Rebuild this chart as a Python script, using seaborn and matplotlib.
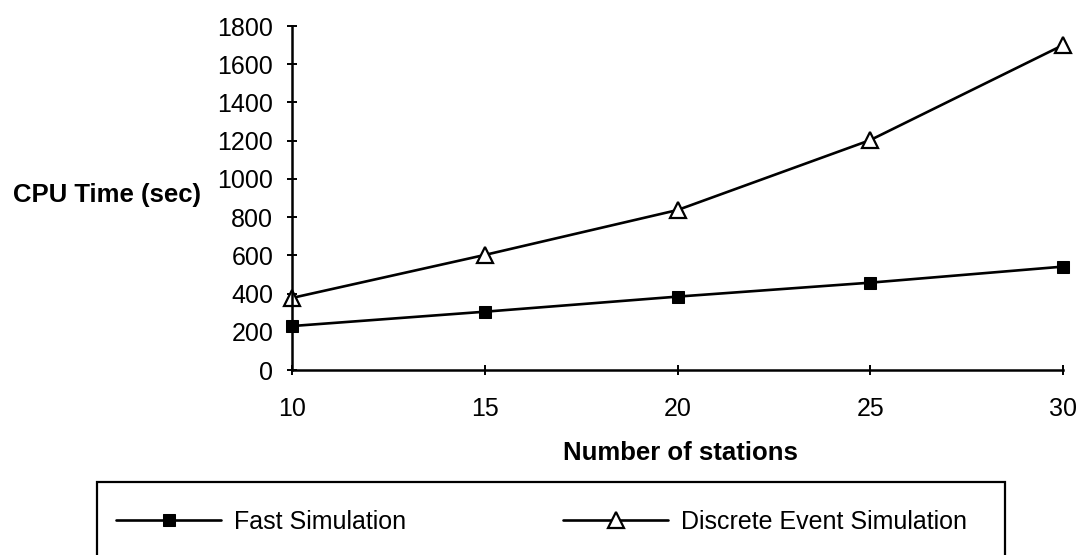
import matplotlib
matplotlib.use("Agg")
import matplotlib.pyplot as plt
import matplotlib.patches as mpatches
import seaborn as sns
import pandas as pd

stations = [10, 15, 20, 25, 30]
fast_sim = [230, 305, 384, 457, 541]
des_sim = [377, 602, 837, 1203, 1700]
y_ticks = [0, 200, 400, 600, 800, 1000, 1200, 1400, 1600, 1800]
x_ticks = [10, 15, 20, 25, 30]
series_names = ["Fast Simulation", "Discrete Event Simulation"]

sns.set_style("white")
plt.rcParams["font.family"] = ["Liberation Sans", "DejaVu Sans"]
plt.rcParams["text.color"] = "black"

W, H = 1082, 555
fig = plt.figure(figsize=(W / 100, H / 100), dpi=100)
L, R, T, B = 292, 1063, 26, 370
ax = fig.add_axes([L / W, 1 - B / H, (R - L) / W, (B - T) / H])

df_fast = pd.DataFrame({"x": stations, "y": fast_sim})
df_des = pd.DataFrame({"x": stations, "y": des_sim})

sns.lineplot(data=df_fast, x="x", y="y", ax=ax, color="black", lw=1.9,
             marker="s", markersize=9, markerfacecolor="black",
             markeredgecolor="black", clip_on=False, label=series_names[0])
sns.lineplot(data=df_des, x="x", y="y", ax=ax, color="black", lw=1.9,
             marker="^", markersize=11, markerfacecolor="white",
             markeredgecolor="black", markeredgewidth=1.6, clip_on=False,
             label=series_names[1])

ax.set_xlim(10, 30)
ax.set_ylim(0, 1800)
ax.set_xticks(x_ticks)
ax.set_yticks(y_ticks)
ax.set_xlabel("")
ax.set_ylabel("")
for s in ["top", "right"]:
    ax.spines[s].set_visible(False)
for s in ["left", "bottom"]:
    ax.spines[s].set_color("black")
    ax.spines[s].set_linewidth(1.8)
ax.tick_params(axis="both", direction="inout", length=7, width=1.4,
               colors="black", labelcolor="black", labelsize=18,
               bottom=True, left=True)
ax.tick_params(axis="y", pad=10)
ax.tick_params(axis="x", pad=16)

handles, labels = ax.get_legend_handles_labels()
ax.get_legend().remove()

fig.text(13 / W, 1 - 195 / H, "CPU Time (sec)", ha="left", va="center",
         fontsize=18.5, fontweight="bold", color="black")
fig.text(680 / W, 1 - 453 / H, "Number of stations", ha="center",
         va="center", fontsize=18.5, fontweight="bold", color="black")

rect = mpatches.Rectangle((97 / W, -0.05), (1005 - 97) / W,
                          (1 - 482 / H) + 0.05, transform=fig.transFigure,
                          fill=False, edgecolor="black", lw=1.6)
fig.patches.append(rect)

leg = fig.legend(handles, labels, loc="center left",
                 bbox_to_anchor=(116 / W, 1 - 522 / H), frameon=False, ncol=2,
                 fontsize=18, handlelength=4.2, handletextpad=0.5,
                 columnspacing=6.3, borderpad=0, borderaxespad=0,
                 labelcolor="black")

fig.savefig("out.png", dpi=100)
